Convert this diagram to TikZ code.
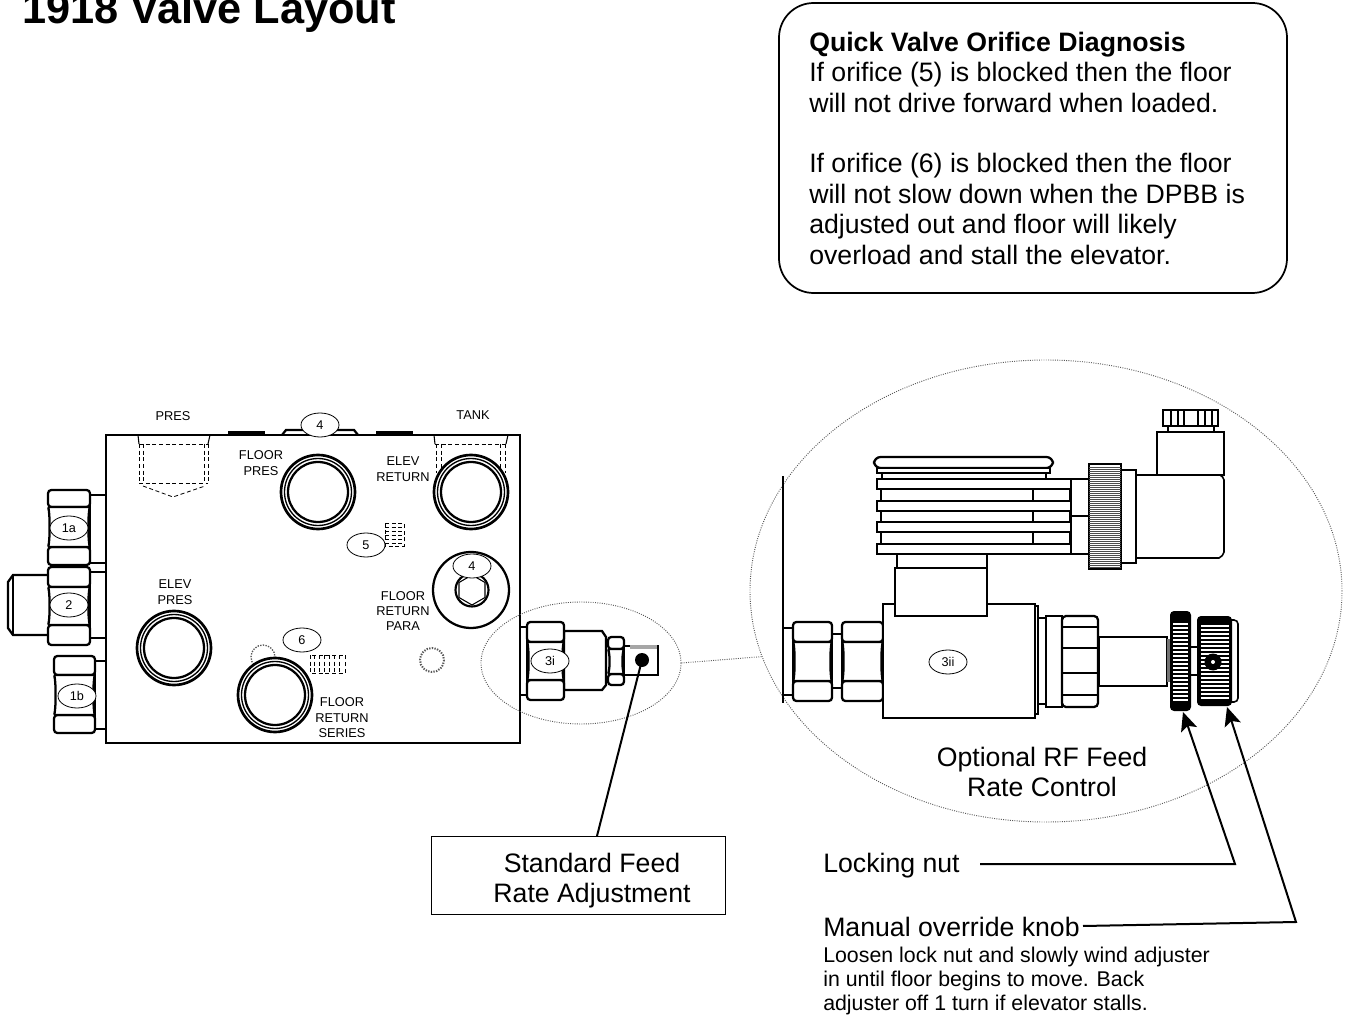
\documentclass[tikz,border=0pt]{standalone}
\usepackage{fontspec}
\setmainfont{Liberation Sans}
\usetikzlibrary{arrows.meta,shapes.geometric,positioning}
\newcommand{\myCasting}{1.7pt}
% spanner flats seen from the side
\newcommand{\myHexNut}[6]{%
	\draw[Casting,rounded corners=2.5pt] (#1,#3) rectangle (#2,#5);
	\draw[Casting,rounded corners=2.5pt] (#1,#6) rectangle (#2,#4);
	\draw[Casting,rounded corners=1pt] (#1,#5) .. controls (#1+2,#5+6) and (#1+2,#6-6) .. (#1,#6) -- (#2,#6) .. controls (#2-2,#6-6) and (#2-2,#5+6) .. (#2,#5) -- cycle;
}
\newcommand{\myPort}[2]{%
	\draw[Casting,line width=2pt] (#1,#2) circle[radius=37];
	\draw[Thin,line width=1pt] (#1,#2) circle[radius=33.5];
	\draw[Casting] (#1,#2) circle[radius=30];
}
\begin{document}
\begin{tikzpicture}[x=0.75pt,y=-0.75pt,>={Stealth[length=14pt,width=12.5pt,inset=3pt]},
	Casting/.style={line width=\myCasting,black,fill=white},
	Thin/.style={line width=0.8pt,black},
	Hidden/.style={line width=0.6pt,black,densely dashed},
	Speckle/.style={line width=1pt,black!65,densely dotted},
	Leader/.style={line width=1.5pt,black},
	ZoomRing/.style={ellipse,draw=black!65,densely dotted,line width=0.7pt,inner sep=0pt},
	Tag/.style={ellipse,draw=black,fill=white,line width=0.6pt,minimum width=28.5pt,minimum height=18pt,inner sep=0pt,font=\fontsize{9.5}{10}\selectfont},
	PortLabel/.style={align=center,inner sep=0pt,font=\fontsize{9.6}{11.6}\selectfont},
	Callout/.style={align=center,inner sep=0pt,font=\fontsize{20}{22.5}\selectfont},
	Note/.style={align=left,anchor=north west,inner sep=0pt,font=\fontsize{20}{22.8}\selectfont},
]
	\useasboundingbox (0,0) rectangle (1347,1016);
	\node[anchor=base west,inner sep=0pt,font=\fontsize{32.5}{34}\selectfont\bfseries] (Title) at (22,24) {1918 Valve Layout};

	\draw[line width=1.3pt,rounded corners=26pt] (779,3) rectangle (1287,293);
	\node[Note] (Diagnosis) at (809,31.7) {\textbf{Quick Valve Orifice Diagnosis}\\If orifice (5) is blocked then the floor\\will not drive forward when loaded.\\[22.8pt]If orifice (6) is blocked then the floor\\will not slow down when the DPBB is\\adjusted out and floor will likely\\overload and stall the elevator.};

	%left fittings
	\draw[Casting] (90,495) rectangle (106,563);
	\draw[Casting] (90,572) rectangle (106,638);
	\draw[Casting] (95,661) rectangle (106,729);
	\draw[Casting] (48,575) -- (13,575) -- (8,582) -- (8,628) -- (13,635) -- (48,635);
	\draw[Thin] (13,575) -- (13,635);
	\myHexNut{48}{90}{490}{565}{507}{547}
	\myHexNut{48}{90}{567}{645}{587}{625}
	\myHexNut{54}{95}{656}{733}{675}{715}

	%manifold block
	\draw[Casting,line width=2pt] (106,435) rectangle (520,743);
	\draw[line width=3.5pt] (228,433) -- (265,433) (376,433) -- (413,433);
	\draw[Casting,fill=none] (282,435) -- (286,430) -- (354,430) -- (358,435);
	\draw[Thin] (138,435) -- (139,444) (210,435) -- (208,444);
	\draw[Hidden] (139,444) -- (208,444) (139,444) -- (139,483) (143,444) -- (143,483) (208,444) -- (208,483) (204,444) -- (204,483) (139,483) -- (208,483);
	\draw[Hidden] (143,486) -- (173,497) -- (205,486);
	\draw[Thin] (434,435) -- (435,444) (508,435) -- (506,444);
	\draw[Hidden] (435,444) -- (506,444) (436,444) -- (436,473) (441,444) -- (441,473) (505,444) -- (505,473) (500,444) -- (500,473);
	\myPort{318}{492}
	\myPort{471}{492}
	\myPort{174}{648}
	\draw[Speckle] (263,657) circle[radius=12];
	\myPort{275}{695}
	\draw[Casting] (471,590) circle[radius=38];
	\draw[line width=1.6pt] (472,590) circle[radius=16.5];
	\draw[Thin] (472,575) -- (485,582.5) -- (485,597.5) -- (472,605) -- (459,597.5) -- (459,582.5) -- cycle;
	\draw[Speckle,line width=1.5pt] (432,660) circle[radius=12];
	\draw[Hidden] (385,523) rectangle (404,546);
	\foreach \y in {527,531,535,539,543} {
		\draw[Hidden] (385,\y) -- (404,\y);
	}
	\draw[Hidden] (310,655) rectangle (345,673);
	\foreach \x in {314,319,324,329,334,339} {
		\draw[Hidden] (\x,655) -- (\x,673);
	}

	\node[PortLabel] (PresLabel) at (173,416) {PRES};
	\node[PortLabel] (TankLabel) at (473,415) {TANK};
	\node[PortLabel] (FloorPres) at (261,463) {FLOOR\\PRES};
	\node[PortLabel] (ElevReturn) at (403,469) {ELEV\\RETURN};
	\node[PortLabel] (FloorPara) at (403,611) {FLOOR\\RETURN\\PARA};
	\node[PortLabel] (ElevPres) at (175,592) {ELEV\\PRES};
	\node[PortLabel] (FloorSeries) at (342,718) {FLOOR\\RETURN\\SERIES};

	%zoom rings
	\node[ZoomRing,minimum width=150pt,minimum height=91.5pt] (SmallZoom) at (581,663) {};
	\node[ZoomRing,minimum width=444pt,minimum height=346.5pt] (BigZoom) at (1046,591) {};
	\draw[black!65,densely dotted,line width=0.7pt] (SmallZoom.east) -- (BigZoom.193);

	%standard adjuster
	\draw[Casting] (520,627) rectangle (527,695);
	\draw[Casting] (564,631) -- (602,631) -- (606,637) -- (606,685) -- (602,690) -- (564,690) -- cycle;
	\draw[Casting] (624,646) rectangle (658,675);
	\draw[line width=2.5pt,black!35] (630,647) -- (657,647);
	\myHexNut{527}{564}{622}{700}{642}{680}
	\myHexNut{608}{624}{637}{685}{649}{674}
	\fill (642,660) circle[radius=7];

	%optional adjuster
	\draw[Thin] (783,476) -- (783,703);
	\draw[Casting,line width=1.2pt] (783,628) rectangle (793,695);
	\draw[Casting,line width=1.2pt] (832,634) rectangle (842,688);
	\myHexNut{793}{832}{622}{701}{642}{681}
	\myHexNut{842}{883}{622}{701}{642}{681}
	\draw[Casting,line width=1.2pt] (883,604) rectangle (1035,718);
	\draw[Casting,line width=1.2pt] (1035,606) rectangle (1038,714);
	\draw[Casting,line width=1.2pt] (1038,618) rectangle (1046,704);
	\draw[Casting,line width=1.2pt] (1046,616) rectangle (1062,707);
	\draw[Casting,line width=1.2pt] (1099,637) rectangle (1167,686);
	\draw[Casting,rounded corners=3pt] (1062,616) rectangle (1098,707);
	\draw[Casting,fill=none,line width=1.2pt] (1062,627) -- (1098,627) (1062,695) -- (1098,695);
	\draw[line width=2pt] (1062,648) -- (1098,648) (1062,673) -- (1098,673);
	\draw[Casting,line width=1.2pt] (895,568) rectangle (987,616);
	\draw[Casting,line width=1.2pt] (897,554) rectangle (987,568);

	\fill[black!55] (1167,639) rectangle (1170,682);
	\draw[Leader] (1191,647) -- (1198,647) (1191,675) -- (1198,675);
	\fill[rounded corners=3pt] (1170,611) rectangle (1191,711);
	\foreach \y in {624,628,...,702} {
		\draw[white,line width=1pt] (1173,\y) -- (1188,\y);
	}
	\draw[Casting,line width=1.2pt,rounded corners=3pt] (1225,620) rectangle (1238,702);
	\fill[rounded corners=3pt] (1197,616) rectangle (1232,706);
	\foreach \y in {626,630,...,698} {
		\draw[white,line width=1pt] (1201,\y) -- (1229,\y);
	}
	\fill (1213,662) circle[radius=8.5];
	\fill[white] (1213,662) circle[radius=2];

	%coil and plug
	\draw[Casting,line width=1.2pt] (1071,479) rectangle (1089,516);
	\draw[Casting,line width=1.2pt] (1071,516) rectangle (1089,554);
	\draw[Casting,rounded corners=5pt] (874,457) rectangle (1053,468);
	\draw[Casting] (877,468) rectangle (1050,473);
	\draw[Casting,line width=1.2pt] (882,473) rectangle (1046,479);
	\foreach \y in {489,511,532} {
		\draw[Casting] (881,\y) rectangle (1070,\y+12);
		\draw[Casting,fill=none] (1033,\y) -- (1033,\y+12);
	}
	\foreach \y in {479,501,522,544} {
		\draw[Casting] (877,\y) rectangle (1071,\y+10);
	}
	\draw[Casting,line width=1.2pt] (1157,432) rectangle (1224,475);
	\draw[Casting,line width=1.2pt] (1168,426) rectangle (1214,432);
	\draw[Casting,line width=1.2pt] (1163,410) rectangle (1218,426);
	\foreach \x in {1171,1178,1184,1198,1205,1212} {
		\draw[Thin] (\x,410) -- (\x,426);
	}
	\draw[Casting,line width=1.2pt] (1136,475) -- (1220,475) to[bend left=25] (1224,480) -- (1224,552) to[bend left=25] (1219,558) -- (1136,558) -- cycle;
	\draw[Casting,line width=1.2pt] (1121,470) rectangle (1136,563);
	\draw[Casting,line width=1.2pt] (1089,464) rectangle (1121,569);
	\foreach \y in {467,469,...,567} {
		\draw[black!70,line width=0.5pt] (1089,\y) -- (1121,\y);
	}

	%item tags
	\node[Tag] (Tag4top) at (320,425) {4};
	\node[Tag] (Tag1a) at (69,528) {1a};
	\node[Tag] (Tag2) at (69,605) {2};
	\node[Tag] (Tag1b) at (77,696) {1b};
	\node[Tag] (Tag5) at (366,545) {5};
	\node[Tag] (Tag4para) at (472,566) {4};
	\node[Tag] (Tag6) at (302,640) {6};
	\node[Tag] (Tag3i) at (550,661) {3i};
	\node[Tag] (Tag3ii) at (948,662) {3ii};

	%callouts
	\node[draw=black,line width=0.6pt,minimum width=220.5pt,minimum height=59pt] (FeedBox) at (578,875.5) {};
	\node[Callout] (FeedText) at (592,881) {Standard Feed\\Rate Adjustment};
	\node[Callout] (RateControl) at (1042,772) {Optional RF Feed\\Rate Control};
	\node[anchor=west,inner sep=0pt,font=\fontsize{20}{22.5}\selectfont] (LockLabel) at (823,866) {Locking nut};
	\node[anchor=west,inner sep=0pt,font=\fontsize{20}{22.5}\selectfont] (KnobLabel) at (823,927) {Manual override knob};
	\node[Note,font=\fontsize{16}{18}\selectfont] (KnobHelp) at (823,947) {Loosen lock nut and slowly wind adjuster\\in until floor begins to move. Back\\adjuster off 1 turn if elevator stalls.};

	\coordinate (FeedFoot) at (597,836);
	\coordinate (FeedTip) at (642,660);
	\coordinate (LockStart) at (980,864);
	\coordinate (LockBend) at (1235,864);
	\coordinate (LockTip) at (1183,712);
	\coordinate (KnobStart) at (1083,926);
	\coordinate (KnobBend) at (1296,922);
	\coordinate (KnobTip) at (1227,707);
	\draw[Leader] (FeedFoot) -- (FeedTip);
	\draw[Leader,->] (LockStart) -- (LockBend) -- (LockTip);
	\draw[Leader,->] (KnobStart) -- (KnobBend) -- (KnobTip);
\end{tikzpicture}
\end{document}
